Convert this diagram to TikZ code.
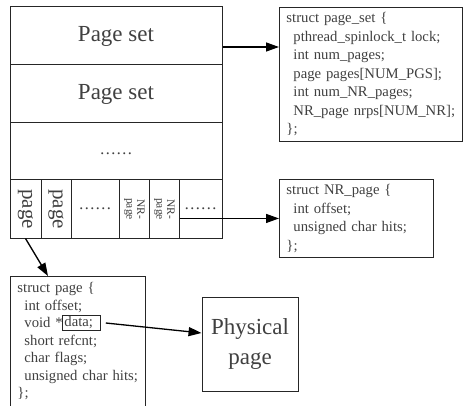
\documentclass[tikz,border=0pt]{standalone}
\usepackage{graphicx}
\usepackage{fontspec}
\setmainfont{Liberation Serif}
\usetikzlibrary{arrows.meta,positioning}
\newcommand{\fld}{\hspace*{7pt}}

\begin{document}
\begin{tikzpicture}[x=1pt,y=-1pt,
    blk/.style={draw=black!85, line width=1pt, inner sep=0pt, text=black!75},
    row/.style={blk, minimum width=212pt, minimum height=58pt,
                font=\fontsize{23}{30}\selectfont},
    cell/.style={blk, minimum height=58pt},
    code/.style={draw=black!85, line width=0.9pt, anchor=north west, align=left,
                 inner xsep=7pt, inner ysep=0pt, text=black!75,
                 font=\fontsize{14.7}{18.5}\selectfont},
    arrow/.style={-{Triangle[length=13pt,width=9pt]}, line width=1.3pt},
  ]
  \useasboundingbox (0,0) rectangle (463,406);

  % the page-set block
  \node[row] (ps1) at (116,36)  {Page set};
  \node[row] (ps2) at (116,94)  {Page set};
  \node[row, minimum height=57pt, font=\fontsize{16.5}{20}\selectfont] (more) at (116,151.5) {\raisebox{-5.5pt}{……}};

  \node[cell, minimum width=31pt, font=\fontsize{21}{24}\selectfont] (pg1) at (25.5,209) {\rotatebox{-90}{page}};
  \node[cell, minimum width=30pt, font=\fontsize{21}{24}\selectfont] (pg2) at (56,209)   {\rotatebox{-90}{page}};
  \node[cell, minimum width=48pt, font=\fontsize{16.5}{20}\selectfont] (pg3) at (95,209) {……};
  \node[cell, minimum width=30pt, font=\fontsize{11.5}{10.5}\selectfont] (nr1) at (134,209)
       {\rotatebox{-90}{\begin{tabular}{@{}c@{}}NR-\\page\end{tabular}}};
  \node[cell, minimum width=30pt, font=\fontsize{11.5}{10.5}\selectfont] (nr2) at (164,209)
       {\rotatebox{-90}{\begin{tabular}{@{}c@{}}NR-\\page\end{tabular}}};
  \node[cell, minimum width=43pt, font=\fontsize{16.5}{20}\selectfont] (nr3) at (200.5,209) {……};

  % structures
  \node[code, text width=169pt, minimum height=134pt] (pset) at (279,7)
       {struct page\_set \{\\
        \fld pthread\_spinlock\_t lock;\\
        \fld int num\_pages;\\
        \fld page pages[NUM\_PGS];\\
        \fld int num\_NR\_pages;\\
        \fld NR\_page nrps[NUM\_NR];\\
        \};};
  \node[code, text width=140pt, minimum height=78pt] (nrs) at (279,179)
       {struct NR\_page \{\\
        \fld int offset;\\
        \fld unsigned char hits;\\
        \};};
  \node[code, text width=121pt, minimum height=130pt, font=\fontsize{14.7}{17.5}\selectfont] (pstr) at (10,276)
       {struct page \{\\
        \fld int offset;\\
        \fld void *\phantom{data;}\\
        \fld short refcnt;\\
        \fld char flags;\\
        \fld unsigned char hits;\\
        \};};
  \node[draw=black!85, line width=0.8pt, anchor=west, text width=34pt, inner xsep=2pt,
        inner ysep=1pt, text=black!75, font=\fontsize{14.7}{17.5}\selectfont] (dat) at (62,323) {data;};

  \node[draw=black!85, line width=0.9pt, minimum width=96pt, minimum height=94pt,
        align=center, text=black!75, font=\fontsize{23}{30}\selectfont] (phys) at (250,344) {Physical\\page};

  \coordinate (pso) at ([yshift=-11pt]ps1.east);
  \draw[arrow] (pso) -- (pso -| pset.west);
  \draw[arrow] (nr2.east |- nrs.west) -- (nrs.west);
  \draw[arrow] (pg1.south) -- ([xshift=38pt]pstr.north west);
  \draw[arrow] ([xshift=5pt]dat.east) -- ([yshift=11pt]phys.west);
\end{tikzpicture}
\end{document}
